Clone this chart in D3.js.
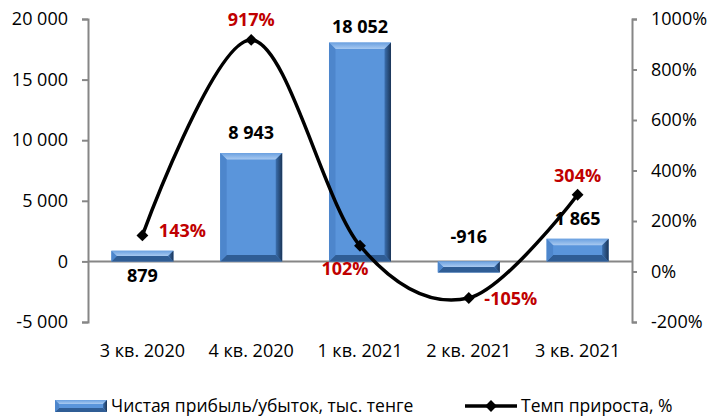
<!DOCTYPE html>
<html>
<head>
<meta charset="utf-8">
<script src="https://cdn.jsdelivr.net/npm/d3@7"></script>
<style>
  body { margin: 0; background: #fff; }
  text { font-family: "Open Sans", sans-serif; }
</style>
</head>
<body>
<script>
var quarters = ["3 кв. 2020", "4 кв. 2020", "1 кв. 2021", "2 кв. 2021", "3 кв. 2021"];
var profit = [879, 8943, 18052, -916, 1865];
var growth = [143, 917, 102, -105, 304];
var profitLabels = ["879", "8 943", "18 052", "-916", "1 865"];
var growthLabels = ["143%", "917%", "102%", "-105%", "304%"];
var leftTicks = [-5000, 0, 5000, 10000, 15000, 20000];
var rightTicks = [-200, 0, 200, 400, 600, 800, 1000];

var width = 710,
    height = 416;

var svg = d3.select("body").append("svg")
    .attr("width", width)
    .attr("height", height);

var x = d3.scaleBand()
    .domain(quarters)
    .range([88, 632])
    .paddingInner(0.43)
    .paddingOuter(0.215);

var xc = d3.scaleBand().domain(quarters).range([88, 632]);

var y = d3.scaleLinear().domain([-5000, 20000]).range([322, 19]);
var y2 = d3.scaleLinear().domain([-200, 1000]).range([322, 19]);

var axisColor = "#868686";
var fmt = function(d) { return d3.format(",")(d).replace(/,/g, " ").replace("\u2212", "-"); };

// left axis
var gl = svg.append("g").attr("transform", "translate(88,0)")
    .call(d3.axisLeft(y).tickValues(leftTicks).tickSize(6).tickPadding(14).tickFormat(fmt));
gl.selectAll("text").style("font-size", "18px").attr("fill", "#000");

// right axis
var gr = svg.append("g").attr("transform", "translate(632,0)")
    .call(d3.axisRight(y2).tickValues(rightTicks).tickSize(5).tickPadding(14).tickFormat(function(d) { return d + "%"; }));
gr.selectAll("text").style("font-size", "18px").attr("fill", "#000");

svg.selectAll(".domain, .tick line").attr("stroke", axisColor).attr("stroke-width", 2);

// zero line
svg.append("line")
    .attr("x1", 88).attr("x2", 632)
    .attr("y1", y(0)).attr("y2", y(0))
    .attr("stroke", axisColor).attr("stroke-width", 2);

// category labels
svg.selectAll(".xlabel")
    .data(quarters)
  .enter().append("text")
    .attr("x", function(d) { return xc(d) + xc.bandwidth() / 2; })
    .attr("y", 357)
    .attr("text-anchor", "middle")
    .style("font-size", "18px")
    .text(function(d) { return d; });

// bevelled bar
function bevel(g, bx, by, bw, bh, b) {
  b = Math.min(b, bh / 2, bw / 2);
  var pts = function(a) { return a.map(function(p) { return p.join(","); }).join(" "); };
  g.append("rect").attr("x", bx).attr("y", by).attr("width", bw).attr("height", bh).attr("fill", "#5a95db");
  g.append("polygon").attr("points", pts([[bx, by], [bx + bw, by], [bx + bw - b, by + b], [bx + b, by + b]])).attr("fill", "url(#gTop)");
  g.append("polygon").attr("points", pts([[bx, by + bh], [bx + bw, by + bh], [bx + bw - b, by + bh - b], [bx + b, by + bh - b]])).attr("fill", "#2f5d95");
  g.append("polygon").attr("points", pts([[bx, by], [bx + b, by + b], [bx + b, by + bh - b], [bx, by + bh]])).attr("fill", "#4d86cc");
  g.append("polygon").attr("points", pts([[bx + bw, by], [bx + bw - b, by + b], [bx + bw - b, by + bh - b], [bx + bw, by + bh]])).attr("fill", "url(#gRight)");
}

var defs = svg.append("defs");
var gt = defs.append("linearGradient").attr("id", "gTop").attr("x1", 0).attr("y1", 0).attr("x2", 0).attr("y2", 1);
gt.append("stop").attr("offset", 0).attr("stop-color", "#6aa0e0");
gt.append("stop").attr("offset", 1).attr("stop-color", "#a9caf1");
var grd = defs.append("linearGradient").attr("id", "gRight").attr("x1", 0).attr("y1", 0).attr("x2", 1).attr("y2", 0);
grd.append("stop").attr("offset", 0).attr("stop-color", "#3b6fae");
grd.append("stop").attr("offset", 1).attr("stop-color", "#1b3557");

var bars = svg.append("g");
profit.forEach(function(v, i) {
  var top = y(Math.max(0, v)), bot = y(Math.min(0, v));
  bevel(bars, x(quarters[i]), top, x.bandwidth(), bot - top, 6.5);
});

// bar labels
var barLabelDy = [14, -14, -10, -18, -14];
svg.selectAll(".blabel")
    .data(profit)
  .enter().append("text")
    .attr("x", function(d, i) { return xc(quarters[i]) + xc.bandwidth() / 2; })
    .attr("y", function(d, i) {
      return i === 0 ? y(0) + 21 : (d < 0 ? y(0) : y(d)) + barLabelDy[i];
    })
    .attr("text-anchor", "middle")
    .style("font-size", "18px")
    .style("font-weight", "bold")
    .text(function(d, i) { return profitLabels[i]; });

// growth line
var pts = growth.map(function(v, i) { return [xc(quarters[i]) + xc.bandwidth() / 2, y2(v)]; });
svg.append("path")
    .attr("d", d3.line().curve(d3.curveCardinal.tension(0))(pts))
    .attr("fill", "none")
    .attr("stroke", "#000")
    .attr("stroke-width", 3.5);

var diamond = d3.symbol().type(d3.symbolSquare).size(70);
svg.selectAll(".marker")
    .data(pts)
  .enter().append("path")
    .attr("d", diamond)
    .attr("transform", function(d) { return "translate(" + d[0] + "," + d[1] + ") rotate(45)"; })
    .attr("fill", "#000");

// growth labels
var gOff = [[40, 2], [0, -14], [-15, 29], [42, 7], [0, -13]];
svg.selectAll(".glabel")
    .data(pts)
  .enter().append("text")
    .attr("x", function(d, i) { return d[0] + gOff[i][0]; })
    .attr("y", function(d, i) { return d[1] + gOff[i][1]; })
    .attr("text-anchor", "middle")
    .style("font-size", "18px")
    .style("font-weight", "bold")
    .attr("fill", "#c00000")
    .text(function(d, i) { return growthLabels[i]; });

// legend
var leg = svg.append("g");
bevel(leg, 55, 400, 52, 12, 4);
leg.append("text").attr("x", 111).attr("y", 412).style("font-size", "17.5px")
    .text("Чистая прибыль/убыток, тыс. тенге");
leg.append("line").attr("x1", 465).attr("x2", 517).attr("y1", 406).attr("y2", 406)
    .attr("stroke", "#000").attr("stroke-width", 3.5);
leg.append("path").attr("d", diamond).attr("transform", "translate(491,406) rotate(45)");
leg.append("text").attr("x", 521).attr("y", 412).style("font-size", "17.5px")
    .text("Темп прироста, %");
</script>
</body>
</html>
